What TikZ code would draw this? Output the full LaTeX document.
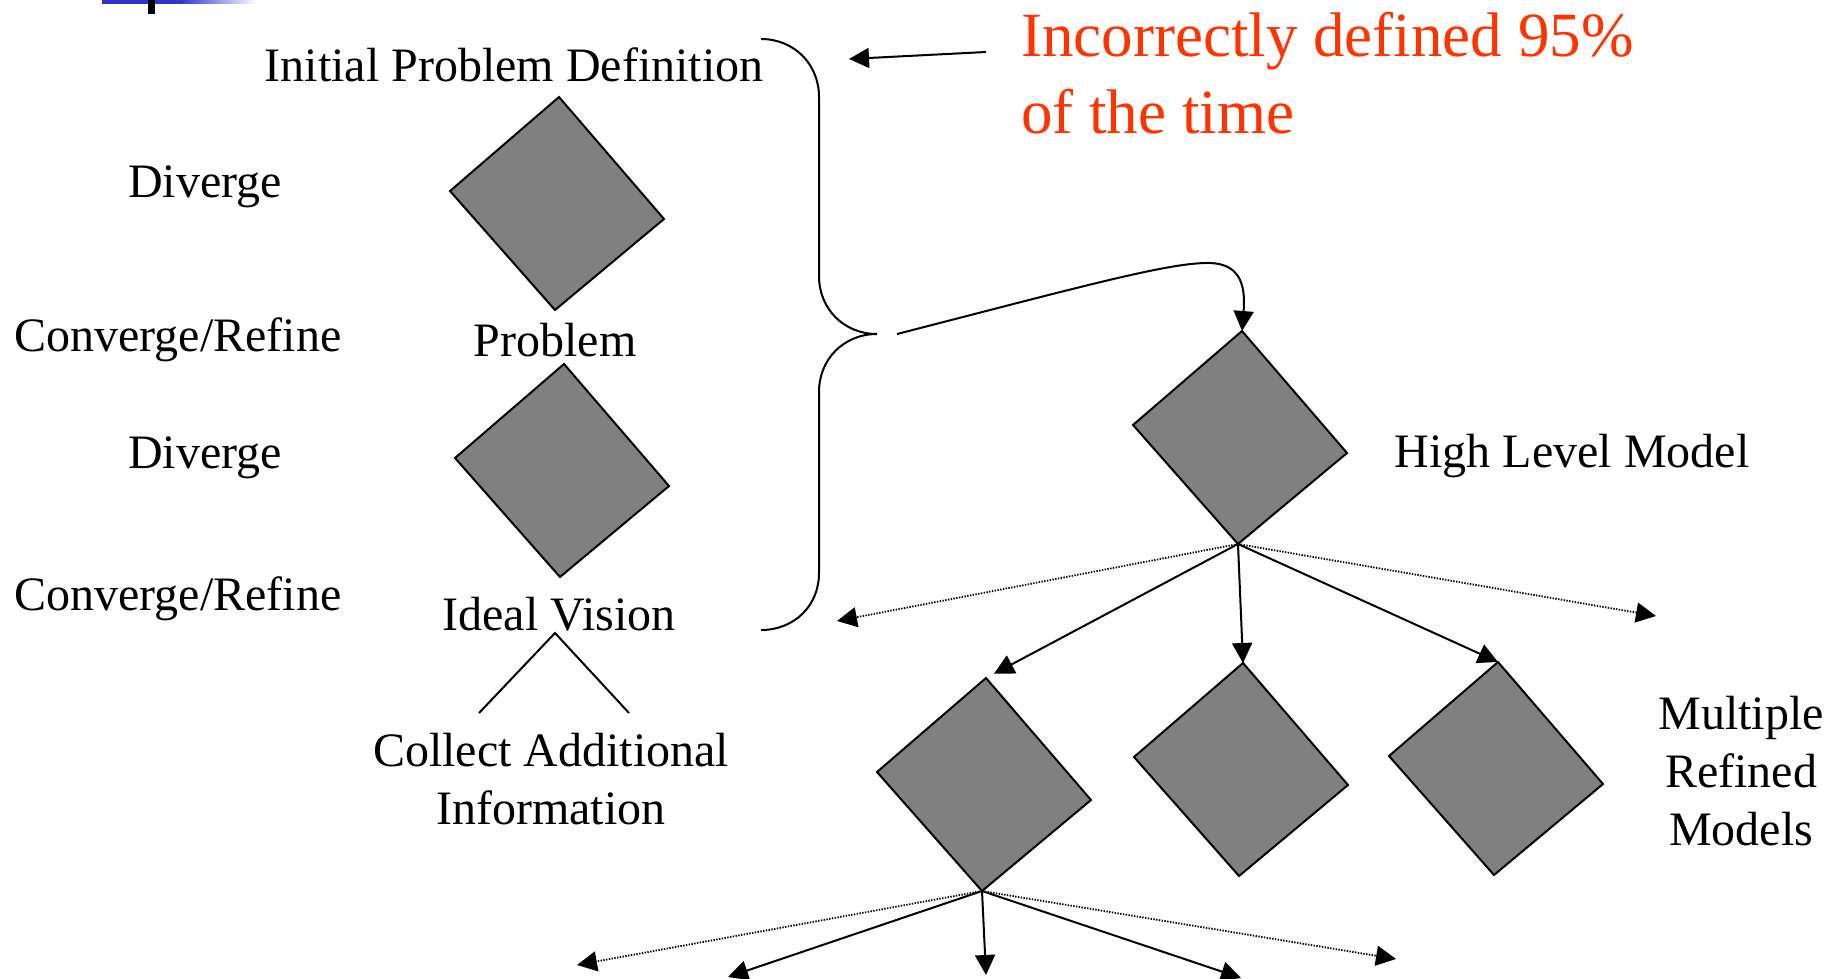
\documentclass[tikz,border=0pt]{standalone}
\usepackage{fontspec}
\setmainfont{Liberation Serif}
\usetikzlibrary{arrows.meta}
\definecolor{tilegray}{RGB}{128,128,128}
\definecolor{notered}{RGB}{255,51,0}
\definecolor{barblue}{RGB}{51,51,204}
\tikzset{
  lbl/.style={font=\fontsize{48}{57.6}\selectfont, inner sep=0pt, anchor=base, align=center},
  note/.style={font=\fontsize{63}{77}\selectfont, inner sep=0pt, anchor=base west, align=left, text=notered},
  tilestyle/.style={draw=black, line width=2pt, fill=tilegray, line join=miter},
  arr/.style={line width=2pt, -{Triangle[length=20pt, width=20pt]}},
  dotarr/.style={line width=1.8pt, dash pattern=on 1.4pt off 1.4pt, -{Triangle[length=20pt, width=20pt]}},
  tile/.pic={
    \path[tilestyle] (0,0) -- (-109,94) -- (-4,213) -- (105,122) -- cycle;
    \coordinate (-top) at (0,0);
    \coordinate (-bot) at (-4,213);
  }
}
\begin{document}
\begin{tikzpicture}[x=1pt,y=-1pt]
\useasboundingbox (0,0) rectangle (1841,979);

% title bar remnant
\fill[barblue] (102,0) rectangle (181,4);
\shade[left color=barblue, right color=white] (180,0) rectangle (257,4);
\fill[black] (148,0) rectangle (155,14);

% left column labels (multi-line nodes sit on their last baseline)
\node[lbl] (ipd)  at (514,82)  {Initial Problem Definition};
\node[lbl] (div1) at (205,197) {Diverge};
\node[lbl] (cr1)  at (178,351) {Converge/Refine};
\node[lbl] (prob) at (555,356) {Problem};
\node[lbl] (div2) at (205,468) {Diverge};
\node[lbl] (cr2)  at (178,610) {Converge/Refine};
\node[lbl] (ideal) at (559,630) {Ideal Vision};
\node[lbl] (cai)  at (551,824) {Collect Additional\\Information};

% right side labels
\node[lbl] (hlm) at (1572,467) {High Level Model};
\node[lbl] (mrm) at (1741,845) {Multiple\\Refined\\Models};
\node[note] (warn) at (1021,133) {Incorrectly defined 95\%\\of the time};

% tiles
\pic (t1) at (559,97)   {tile};
\pic (t2) at (564,364)  {tile};
\pic (t3) at (1242,331) {tile};
\pic (t4) at (986,678)  {tile};
\pic (t5) at (1243,663) {tile};
\pic (t6) at (1498,662) {tile};

% split below the ideal vision
\coordinate (apex) at (555,633);
\coordinate (splitL) at (479,713);
\coordinate (splitR) at (629,713);
\draw[line width=2pt] (splitL) -- (apex) -- (splitR);

% brace spanning the problem definition stage
\draw[line width=2pt]
  (761,39) .. controls (794,39) and (819,64) .. (819,97)
  -- (819,276) .. controls (819,309) and (844,334) .. (877,334)
  .. controls (844,334) and (819,359) .. (819,392)
  -- (819,573) .. controls (819,606) and (794,630) .. (761,630);

% pointer from the note
\coordinate (warnfrom) at (986,52);
\coordinate (warnto) at (849,59);
\draw[arr] (warnfrom) -- (warnto);

% curved link from the brace to the high level model
\coordinate (bracetip) at (897,334);
\draw[arr] (bracetip) .. controls (1080,287) and (1170,262) .. (1210,263)
  .. controls (1238,264) and (1246,282) .. (t3-top);

% fan-out from the high level model
\coordinate (f1) at (837,621);
\coordinate (f5) at (1656,616);
\draw[dotarr] (t3-bot) -- (f1);
\draw[arr, shorten >=9pt] (t3-bot) -- (t4-top);
\draw[arr] (t3-bot) -- (t5-top);
\draw[arr] (t3-bot) -- (t6-top);
\draw[dotarr] (t3-bot) -- (f5);

% fan-out from the first refined model
\coordinate (g1) at (577,965);
\coordinate (g2) at (728,977);
\coordinate (g3) at (986,975);
\coordinate (g4) at (1241,978);
\coordinate (g5) at (1396,959);
\draw[dotarr] (t4-bot) -- (g1);
\draw[arr] (t4-bot) -- (g2);
\draw[arr] (t4-bot) -- (g3);
\draw[arr] (t4-bot) -- (g4);
\draw[dotarr] (t4-bot) -- (g5);
\end{tikzpicture}
\end{document}
